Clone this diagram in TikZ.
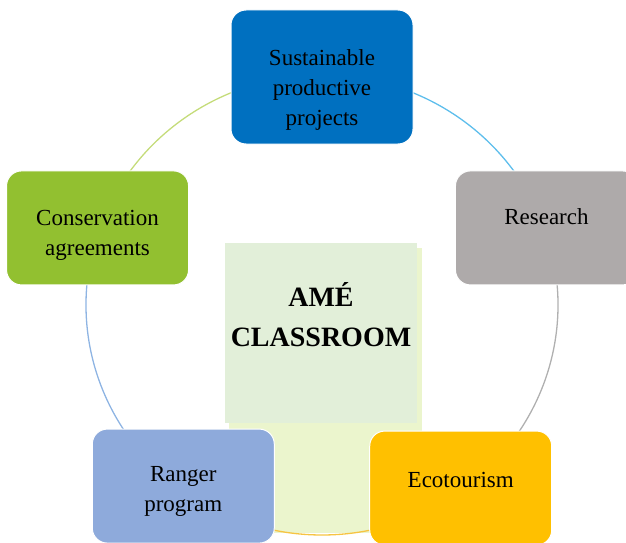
\documentclass[tikz,border=0pt]{standalone}
\usepackage{fontspec}
\setmainfont{Liberation Serif}
\usepackage{tikz}
\usetikzlibrary{calc}

\begin{document}
\begin{tikzpicture}[x=1pt,y=1pt,
    petal/.style={rounded corners=15pt, draw=white, line width=1pt,
      minimum width=182, minimum height=114, align=center,
      font=\fontsize{23}{30}\selectfont},
    ring/.style={line width=1.3pt}]
    \definecolor{projblue}{HTML}{0070C0}
    \definecolor{resgray}{HTML}{AEAAAA}
    \definecolor{ecoyellow}{HTML}{FFC000}
    \definecolor{rangerblue}{HTML}{8EAADB}
    \definecolor{consgreen}{HTML}{92C030}
    \definecolor{hubgreen}{HTML}{E2EFD9}
    \definecolor{hubback}{HTML}{EBF5CD}
    \def\rx{236}\def\ry{230}
    \useasboundingbox (0,0) rectangle (626,542);
    \coordinate (C) at (322,237);
    \foreach \a/\n in {90/p1,18/p2,-54/p3,-126/p4,162/p5}
      \path (C) ++(\a:{\rx} and {\ry}) coordinate (\n);
    % centre panel and its backing
    \node[fill=hubback, minimum width=193, minimum height=285] (back) at (325.5,151.5) {};
    \node[fill=hubgreen, minimum width=192, minimum height=180] (hub) at (321,209) {};
    \node[font=\fontsize{28}{40}\selectfont\bfseries, align=center] (hubtext)
      at ([yshift=18]hub.center) {AMÉ\\CLASSROOM};
    % ring
    \draw[ring, color={rgb,255:red,94;green,190;blue,236}] (p1) arc[start angle=90, end angle=18, x radius=\rx, y radius=\ry];
    \draw[ring, color={rgb,255:red,176;green,176;blue,176}] (p2) arc[start angle=18, end angle=-54, x radius=\rx, y radius=\ry];
    \draw[ring, color={rgb,255:red,246;green,196;blue,66}] (p3) arc[start angle=-54, end angle=-126, x radius=\rx, y radius=\ry];
    \draw[ring, color={rgb,255:red,142;green,180;blue,227}] (p4) arc[start angle=-126, end angle=-198, x radius=\rx, y radius=\ry];
    \draw[ring, color={rgb,255:red,197;green,220;blue,122}] (p5) arc[start angle=162, end angle=90, x radius=\rx, y radius=\ry];
    % boxes
    \node[petal, fill=projblue, minimum height=134, yshift=-2] (proj) at (p1) {\mbox{}\\[12pt]Sustainable\\productive\\projects};
    \node[petal, fill=resgray, yshift=6] (res) at (p2) {Research\\[-8pt]};
    \node[petal, fill=ecoyellow, yshift=3] (eco) at (p3) {Ecotourism\\[-14pt]};
    \node[petal, fill=rangerblue, yshift=5] (ranger) at (p4) {\mbox{}\\[-4pt]Ranger\\program};
    \node[petal, fill=consgreen, yshift=6] (cons) at (p5) {\mbox{}\\[0pt]Conservation\\agreements};
\end{tikzpicture}
\end{document}
